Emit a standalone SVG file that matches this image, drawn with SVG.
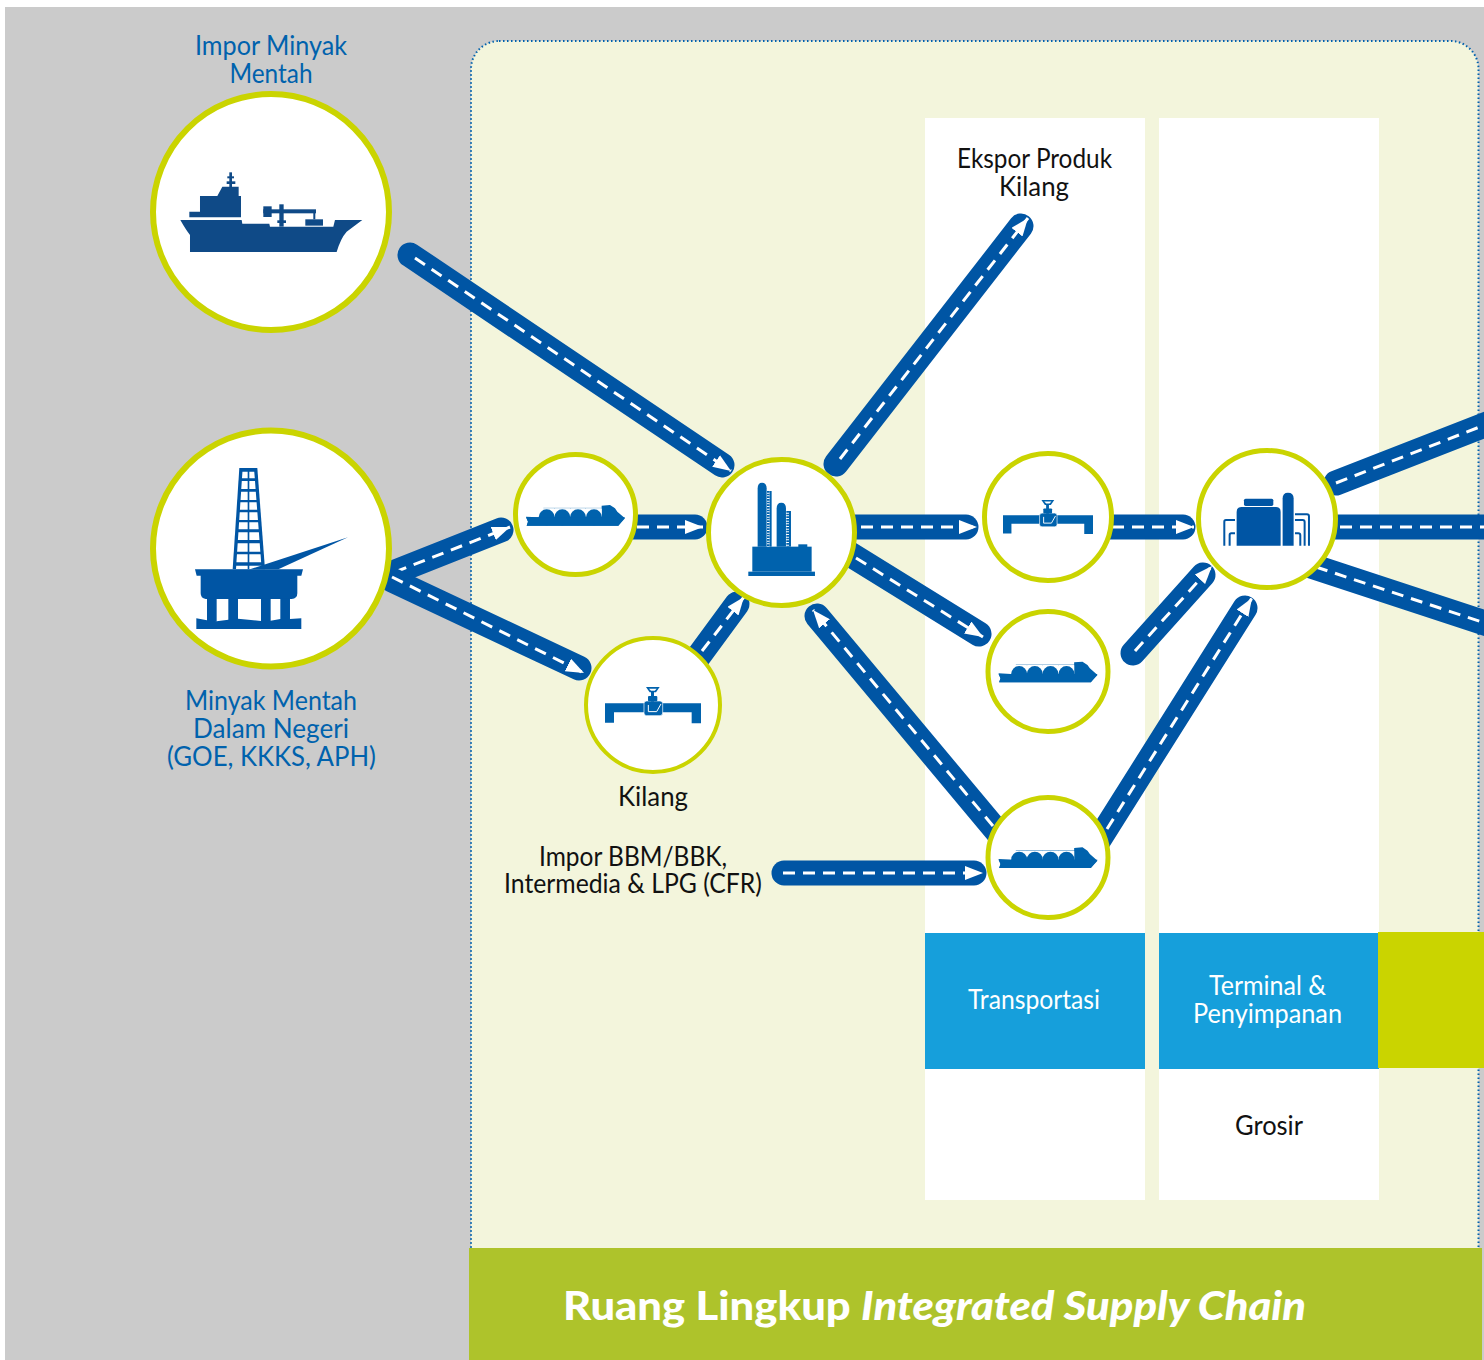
<svg xmlns="http://www.w3.org/2000/svg" xmlns:xlink="http://www.w3.org/1999/xlink" width="1484" height="1360" viewBox="0 0 1484 1360">
<style>
text{font-family:"Lato","Open Sans","Liberation Sans",sans-serif;font-size:26px;text-anchor:middle}
.b{fill:#0062ad}.k{fill:#111}.w{fill:#fff}
.road{stroke:#0055a4;stroke-width:25;stroke-linecap:round;fill:none}
.lane{stroke:#fff;stroke-width:3;stroke-dasharray:12 8;fill:none}
.head{marker-end:url(#ah)}
.ring{fill:#fff;stroke:#cad400}
</style>
<defs>
<marker id="ah" markerUnits="userSpaceOnUse" markerWidth="18" markerHeight="14" refX="18" refY="7" orient="auto"><path d="M0,0L18,7L0,14Z" fill="#fff"/></marker>
<g id="valve" transform="translate(-315,-790)">
<path d="M315,790H603V850H575V817H342V848H315Z" fill="#0062ad"/>
<rect x="432" y="783" width="56" height="44" rx="8" fill="#0062ad" stroke="#fff" stroke-width="2"/>
<path d="M445,815V795M445,815H470L483,792" stroke="#fff" stroke-width="3" fill="none"/>
<rect x="453" y="755" width="9" height="30" fill="#0062ad"/>
<rect x="444" y="768" width="28" height="16" rx="3" fill="#0062ad"/>
<path d="M438,741H479L468,757H449Z" fill="#0062ad"/>
<path d="M447,746H470L464,752H453Z" fill="#fff"/>
</g>
<g id="lng" transform="translate(-78,-258)">
<path d="M80,257L84,245L78,230L115,232H305V197L330,195L345,205L352,215L375,235L355,257Z" fill="#0062ad"/>
<path d="M130,205H340" stroke="#0062ad" stroke-width="2" fill="none"/>
<path d="M163,205H118V232H163ZM210,205H164V232H210ZM257,205H211V232H257ZM305,205H258V232H305Z" fill="#fff"/>
<circle cx="140" cy="232" r="24" fill="#0062ad"/><circle cx="187" cy="232" r="24" fill="#0062ad"/><circle cx="234" cy="232" r="24" fill="#0062ad"/><circle cx="282" cy="232" r="24" fill="#0062ad"/>
<path d="M80,257L84,245L78,232H375L355,257Z" fill="#0062ad"/>
</g>
</defs>

<rect id="bg" x="5" y="7" width="1479" height="1353" fill="#cbcbcb"/>
<g id="panel">
<rect x="471" y="41" width="1007.500" height="1240" rx="28" fill="#f3f5dc" stroke="#0062ad" stroke-width="2" stroke-dasharray="1.500 2.500"/>
<rect x="925" y="118" width="220" height="1082" fill="#fff"/>
<rect x="1159" y="118" width="220" height="1082" fill="#fff"/>
</g>
<g id="col-transportasi"><rect x="925" y="933" width="220" height="136" fill="#169fdb"/><text class="w" x="1034" y="1009" textLength="132" lengthAdjust="spacingAndGlyphs">Transportasi</text></g>
<g id="col-terminal"><rect x="1159" y="933" width="220" height="136" fill="#169fdb"/><text class="w" x="1267.500" y="995" textLength="117" lengthAdjust="spacingAndGlyphs">Terminal &amp;</text><text class="w" x="1267.500" y="1023" textLength="149" lengthAdjust="spacingAndGlyphs">Penyimpanan</text></g>
<rect id="lime-block" x="1378" y="932" width="106" height="136" fill="#cad400"/>
<g id="title"><rect x="469" y="1248" width="1013" height="112" fill="#aec32b"/>
<text class="w" x="934.500" y="1320" style="font-size:39px;font-weight:900" textLength="743" lengthAdjust="spacingAndGlyphs">Ruang Lingkup <tspan font-style="italic">Integrated Supply Chain</tspan></text></g>

<g id="connectors">
<path class="road" d="M410,255L722,465"/><path class="lane head" d="M415,258L731,471"/>
<path class="road" d="M836,464L1021,226"/><path class="lane head" d="M840,459L1028,218"/>
<path class="road" d="M840,527H966"/><path class="lane head" d="M861,527H977"/>
<path class="road" d="M840,548L979,634"/><path class="lane head" d="M856,558L983,637"/>
<path class="road" d="M1010,847L817,616"/><path class="lane head" d="M993,826L813,610"/>
<path class="road" d="M1095,846L1245,608"/><path class="lane head" d="M1107,829L1252,598"/>
<path class="road" d="M1133,653L1203,575"/><path class="lane head" d="M1135,651L1212,566"/>
<path class="road" d="M1100,527H1183"/><path class="lane head" d="M1112,527H1194"/>
<path class="road" d="M1336,483L1500,419"/><path class="lane" d="M1336,483L1500,419"/>
<path class="road" d="M1320,527H1500"/><path class="lane" d="M1340,527H1500"/>
<path class="road" d="M1290,559L1500,628"/><path class="lane" d="M1316,567L1500,628"/>
<path class="road" d="M395,572L501,530"/><path class="lane head" d="M395,572L510,527"/>
<path class="road" d="M392,580L579,668"/><path class="lane head" d="M392,577L584,673"/>
<path class="road" d="M620,527H695"/><path class="lane head" d="M637,527H703"/>
<path class="road" d="M690,668L737,604"/><path class="lane head" d="M702,651L744,597"/>
<path class="road" d="M784,873H974"/><path class="lane head" d="M783,873H983"/>
</g>

<g id="node-impor-minyak">
<circle class="ring" cx="271" cy="212" r="118" stroke-width="6"/>
<g transform="translate(150,90) scale(.3333)" fill="#0f4a87">
<path d="M91,390L275,390L277,401L358,401L360,410L550,410L555,390L637,390L590,425Q572,445 560,486L120,486L120,435Q108,420 91,390Z"/>
<path d="M118,365H150V318H202L217,290H266V318H273V382H118Z"/>
<rect x="238" y="247" width="8" height="45"/><rect x="232" y="259" width="20" height="6"/><rect x="230" y="274" width="26" height="8"/>
<rect x="388" y="343" width="13" height="67"/><rect x="340" y="358" width="158" height="12"/><rect x="340" y="349" width="25" height="32"/><rect x="382" y="391" width="26" height="8"/><rect x="490" y="368" width="6" height="20"/><rect x="466" y="388" width="53" height="19"/>
</g>
<text class="b" x="271" y="55" textLength="152" lengthAdjust="spacingAndGlyphs">Impor Minyak</text>
<text class="b" x="271" y="83" textLength="83" lengthAdjust="spacingAndGlyphs">Mentah</text>
</g>

<g id="node-minyak-dalam-negeri">
<circle class="ring" cx="271" cy="548.500" r="118" stroke-width="6"/>
<g transform="translate(150,425) scale(.3333)" fill="#0055a4">
<path d="M268,129H322L345,433H248Z"/>
<path fill="#fff" d="M277.300,140H293V160H276ZM298,140H312.800L314.400,160H298ZM275.400,168H293V192H273.800ZM298,168H315L316.800,192H298ZM273.300,200H293V225H271.700ZM298,200H317.400L319.300,225H298ZM271.200,232H293V254H269.800ZM298,232H319.800L321.500,254H298ZM269.200,262H293V285H267.700ZM298,262H322.100L323.900,285H298ZM267.200,292H293V313H265.900ZM298,292H324.400L326,313H298ZM265.300,322H293V345H263.700ZM298,322H326.700L328.400,345H298ZM263.100,355H293V380H261.400ZM298,355H329.200L331,380H298ZM260.900,388H293V412H259.300ZM298,388H331.700L333.500,412H298ZM258.700,422H293V433H258ZM298,422H334.300L335,433H298Z"/>
<path d="M300,433L594,337L385,433Z"/>
<path d="M135,433H459L454,452H442V505Q442,521 425,522H167Q152,520 152,505V452H140Z"/>
<rect x="171" y="520" width="29" height="70"/><rect x="235" y="520" width="29" height="66"/><rect x="333" y="520" width="29" height="70"/><rect x="391" y="520" width="29" height="66"/>
<path d="M139,580L171,586L200,589L235,584L264,581L333,588L362,587L391,582L420,582L454,580V612H139Z"/>
</g>
<text class="b" x="271" y="710" textLength="172" lengthAdjust="spacingAndGlyphs">Minyak Mentah</text>
<text class="b" x="271" y="738" textLength="156" lengthAdjust="spacingAndGlyphs">Dalam Negeri</text>
<text class="b" x="271.500" y="766" textLength="209" lengthAdjust="spacingAndGlyphs">(GOE, KKKS, APH)</text>
</g>

<g id="node-lng-1"><circle class="ring" cx="575.500" cy="514.500" r="60" stroke-width="5"/><use href="#lng" transform="translate(526,526) scale(.3333)"/></g>
<g id="node-kilang-pipa"><circle class="ring" cx="653" cy="705" r="67" stroke-width="4"/><use href="#valve" transform="translate(605,703.300) scale(.3333)"/>
<text class="k" x="653" y="806" textLength="70" lengthAdjust="spacingAndGlyphs">Kilang</text></g>

<g id="node-kilang">
<circle class="ring" cx="781.500" cy="532.500" r="73" stroke-width="5"/>
<g transform="translate(500,440) scale(.3333)" fill="#0062ad">
<path d="M773,320V145Q773,128 786,128Q800,128 800,145V320Z"/>
<path d="M830,320V205Q830,188 844,188Q858,188 858,205V320Z"/>
<rect x="809" y="153" width="6" height="167"/><rect x="859" y="213" width="14" height="107" fill="none"/><rect x="867" y="213" width="6" height="107"/>
<path d="M805,153V320M863,213V320" stroke="#0062ad" stroke-width="8" stroke-dasharray="5 3" fill="none"/>
<rect x="757" y="320" width="178" height="75"/><rect x="895" y="313" width="27" height="8"/><rect x="745" y="395" width="200" height="13"/>
</g>
</g>

<g id="node-pipa-2"><circle class="ring" cx="1048" cy="517" r="63.500" stroke-width="5"/><use href="#valve" transform="translate(1003,515.300) scale(.3125)"/></g>
<g id="node-lng-2"><circle class="ring" cx="1048" cy="671.500" r="60" stroke-width="5"/><use href="#lng" transform="translate(998.500,682.700) scale(.3333)"/></g>
<g id="node-lng-3"><circle class="ring" cx="1048" cy="857.500" r="60" stroke-width="5"/><use href="#lng" transform="translate(998.500,868.300) scale(.3333)"/></g>

<g id="node-terminal">
<circle class="ring" cx="1267" cy="519" r="68.500" stroke-width="5"/>
<g transform="translate(970,440) scale(.3333)" fill="#0055a4">
<path d="M800,317V216Q800,201 815,201H918Q932,201 932,216V317Z"/>
<rect x="822" y="176" width="88" height="22" rx="5"/>
<path d="M938,317V175Q938,158 954,158Q971,158 971,175V317Z"/>
<path d="M763,317V245Q763,240 768,240H795M779,317V285Q779,280 784,280H795M975,223H1011Q1017,223 1017,229V317M975,240H998Q1004,240 1004,246V317M975,280H985Q991,280 991,286V317" fill="none" stroke="#0055a4" stroke-width="6"/>
</g>
</g>

<text class="k" x="633" y="866" textLength="188" lengthAdjust="spacingAndGlyphs">Impor BBM/BBK,</text>
<text class="k" x="633" y="893" textLength="258" lengthAdjust="spacingAndGlyphs">Intermedia &amp; LPG (CFR)</text>
<text class="k" x="1034.500" y="168" textLength="155" lengthAdjust="spacingAndGlyphs">Ekspor Produk</text>
<text class="k" x="1034" y="196" textLength="70" lengthAdjust="spacingAndGlyphs">Kilang</text>
<text class="k" x="1269" y="1135" textLength="68" lengthAdjust="spacingAndGlyphs">Grosir</text>
</svg>
